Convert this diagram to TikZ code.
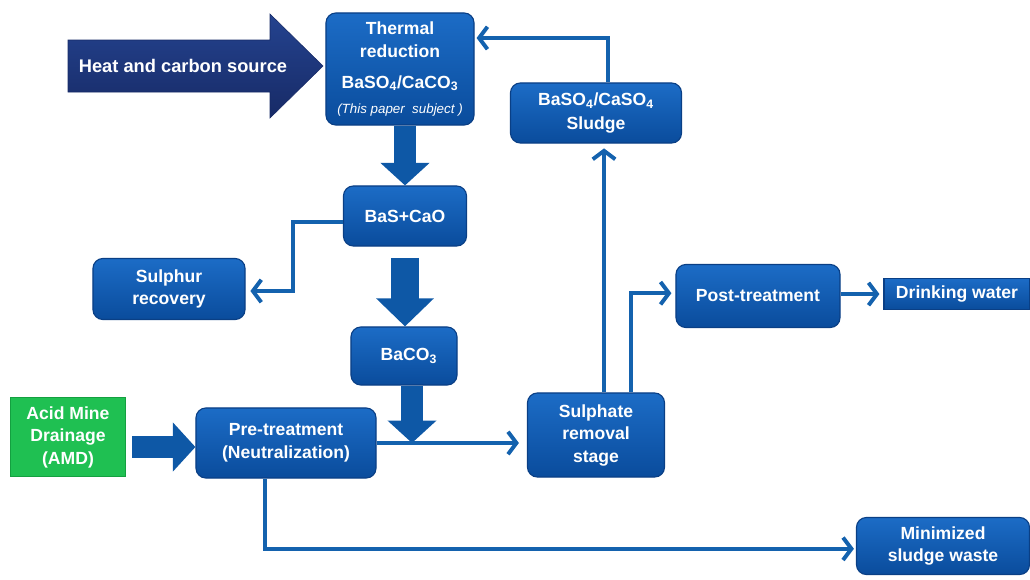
\documentclass[tikz,border=0pt]{standalone}
\usepackage{fontspec}
\setmainfont{Liberation Sans}
\usetikzlibrary{arrows.meta,positioning}
\definecolor{boxtop}{HTML}{1C6CC6}
\definecolor{boxbot}{HTML}{0A4C9C}
\definecolor{boxedge}{HTML}{0A3F85}
\definecolor{navytop}{HTML}{24438F}
\definecolor{navybot}{HTML}{172A66}
\definecolor{amdgreen}{HTML}{1FC052}
\definecolor{amdedge}{HTML}{14A040}
\definecolor{flowblue}{HTML}{1462AE}
\definecolor{fatblue}{HTML}{0E58A6}
\tikzset{
  box/.style={rounded corners=7pt, draw=boxedge, line width=0.8pt,
    top color=boxtop, bottom color=boxbot, text=white, align=center,
    font=\fontsize{12.5}{16}\selectfont\bfseries, inner sep=2pt},
  flatbox/.style={box, rounded corners=0pt},
  flow/.style={draw=flowblue, line width=2.8pt,
    -{Straight Barb[length=6pt,width=16pt]}},
  fat/.style={draw=fatblue, line width=16pt,
    -{Triangle[length=16pt,width=34pt]}},
}
\begin{document}
\begin{tikzpicture}[x=0.025cm, y=-0.025cm, line join=miter]
  \useasboundingbox (0,0) rectangle (1030,579);
  % heat input arrow
  \shade[top color=navytop, bottom color=navybot, draw=navybot]
    (68,40) -- (270,40) -- (270,14) -- (323,66) -- (270,118) -- (270,92) -- (68,92) -- cycle;
  \node[text=white, font=\fontsize{13}{15}\selectfont\bfseries] (heat) at (183,66) {Heat and carbon source};

  % process boxes
  \node[box, minimum width=3.7cm, minimum height=2.8cm] (thermal) at (400,69)
    {Thermal\\reduction\\[6pt]BaSO\textsubscript{4}/CaCO\textsubscript{3}\\[2pt]
     {\fontsize{9.5}{10}\selectfont\mdseries\itshape (This paper\ \ subject )}};
  \node[box, minimum width=4.275cm, minimum height=1.5cm] (sludge) at (596,113)
    {BaSO\textsubscript{4}/CaSO\textsubscript{4}\\[1pt]Sludge};
  \node[box, minimum width=3.075cm, minimum height=1.5cm] (bas) at (405,216) {BaS+CaO};
  \node[box, minimum width=3.8cm, minimum height=1.525cm] (sulphur) at (169,289)
    {Sulphur\\recovery};
  \node[box, minimum width=2.65cm, minimum height=1.45cm] (baco3) at (404,356)
    {\ \ BaCO\textsubscript{3}};
  \node[flatbox, draw=amdedge, top color=amdgreen, bottom color=amdgreen,
    minimum width=2.875cm, minimum height=1.975cm] (amd) at (68,437)
    {Acid Mine\\Drainage\\(AMD)};
  \node[box, minimum width=4.5cm, minimum height=1.75cm] (pre) at (286,443)
    {Pre-treatment\\(Neutralization)};
  \node[box, minimum width=3.425cm, minimum height=2.1cm] (sulphate) at (596,435)
    {Sulphate\\removal\\stage};
  \node[box, minimum width=4.1cm, minimum height=1.575cm] (post) at (758,296)
    {Post-treatment};
  \node[flatbox, minimum width=3.65cm, minimum height=0.775cm] (drink) at (957,294)
    {Drinking water};
  \node[box, minimum width=4.325cm, minimum height=1.425cm] (minim) at (943,546)
    {Minimized\\sludge waste};

  % thick arrows
  \draw[fat] (thermal.south -| bas.north) -- (bas.north);
  \draw[fat, line width=20pt, -{Triangle[length=20pt,width=40pt]}, shorten <=0.28cm]
    (bas.south) -- (bas.south |- baco3.north);
  \draw[fat] ([xshift=0.2cm]baco3.south) -- ([xshift=0.2cm]baco3.south |- pre.east);
  \draw[fat, shorten <=0.15cm] ([yshift=-0.1cm]pre.west -| amd.east) -- ([yshift=-0.1cm]pre.west);

  % thin arrows
  \draw[flow] (pre.east) -- ([xshift=-0.2cm]pre.east -| sulphate.west);
  \draw[flow] ([xshift=0.2cm]sulphate.north) -- ([xshift=0.2cm,yshift=-0.12cm]sludge.south);
  \draw[flow] ([xshift=0.3cm]sludge.north) |- ([xshift=0.05cm,yshift=0.775cm]thermal.east);
  \draw[flow] ([xshift=0.875cm]sulphate.north) |- ([xshift=-0.1cm,yshift=0.07cm]post.west);
  \draw[flow, shorten >=0.1cm] (post.east |- drink.west) -- (drink.west);
  \draw[flow] ([yshift=-0.15cm]bas.west) -- ++(-50,0) |- ([xshift=0.12cm,yshift=-0.05cm]sulphur.east);
  \draw[flow] ([xshift=-0.525cm]pre.south) |- ([xshift=-0.05cm,yshift=-0.07cm]minim.west);
\end{tikzpicture}
\end{document}
